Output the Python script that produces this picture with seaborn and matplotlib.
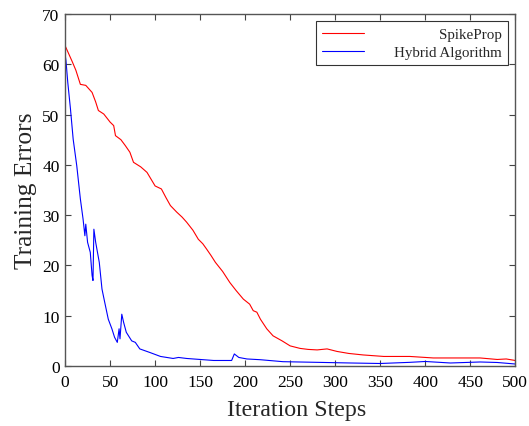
import pandas as pd
import matplotlib
matplotlib.use("Agg")
import matplotlib.pyplot as plt
import seaborn as sns

# SpikeProp training error
spike_x = [0, 3, 8, 12, 17, 23, 30, 34, 37, 43, 50, 54, 56, 62, 67, 72, 76, 84, 91, 96, 100,
           107, 112, 117, 124, 130, 135, 142, 148, 153, 157, 162, 167, 175, 183, 190, 198,
           205, 209, 213, 217, 224, 231, 241, 250, 261, 270, 280, 291, 302, 315, 331, 354,
           383, 409, 435, 461, 480, 490, 500]
spike_y = [63.7, 62.5, 60.5, 58.8, 56.0, 55.8, 54.4, 52.5, 50.8, 50.1, 48.5, 47.8, 45.8, 45.0,
           43.8, 42.5, 40.5, 39.6, 38.5, 37.0, 35.8, 35.2, 33.5, 31.9, 30.6, 29.6, 28.6, 27.0,
           25.2, 24.3, 23.3, 22.0, 20.6, 18.8, 16.6, 15.0, 13.3, 12.3, 11.0, 10.7, 9.3, 7.4,
           6.0, 5.0, 4.0, 3.5, 3.3, 3.2, 3.4, 2.9, 2.5, 2.2, 1.9, 1.9, 1.6, 1.6, 1.6, 1.3,
           1.4, 1.1]

# Hybrid algorithm training error
hybrid_x = [0, 1, 3, 6, 9, 13, 17, 20, 22, 23, 25, 28, 30, 31, 32, 34, 38, 41, 44, 48, 52,
            55, 58, 60, 61, 63, 65, 68, 74, 78, 83, 94, 106, 120, 126, 135, 150, 165, 185,
            188, 193, 202, 217, 242, 280, 317, 350, 383, 400, 428, 461, 480, 500]
hybrid_y = [62.0, 60.7, 56.4, 51.1, 45.1, 39.8, 33.2, 29.2, 25.9, 28.2, 24.6, 22.6, 18.0,
            17.0, 27.2, 24.6, 20.6, 15.3, 12.7, 9.3, 7.4, 5.7, 4.7, 7.4, 5.4, 10.3, 8.7, 6.7,
            5.0, 4.7, 3.4, 2.7, 1.9, 1.5, 1.7, 1.5, 1.3, 1.1, 1.1, 2.4, 1.7, 1.4, 1.25, 0.86,
            0.73, 0.6, 0.5, 0.73, 0.9, 0.6, 0.8, 0.7, 0.4]

spike = pd.DataFrame({"step": spike_x, "err": spike_y})
hybrid = pd.DataFrame({"step": hybrid_x, "err": hybrid_y})

sns.set_style("ticks")
plt.rcParams["font.family"] = ["Liberation Serif", "DejaVu Serif"]

fig = plt.figure(figsize=(5.29, 4.27), dpi=100)
ax = fig.add_axes([0.123, 0.1405, 0.851, 0.8245])

sns.lineplot(data=spike, x="step", y="err", color="red", lw=0.8, label="SpikeProp", ax=ax)
sns.lineplot(data=hybrid, x="step", y="err", color="blue", lw=0.8, label="Hybrid Algorithm", ax=ax)

ax.set_xlim(0, 500)
ax.set_ylim(0, 70)
ax.set_xticks(range(0, 501, 50))
ax.set_yticks(range(0, 71, 10))
ax.tick_params(direction="in", top=True, right=True, labelsize=12.5, length=4, colors="#444444",
               labelcolor="black")
ax.tick_params(axis="x", pad=6)
ax.tick_params(axis="y", pad=4)
for s in ax.spines.values():
    s.set_color("#555555")
    s.set_linewidth(1)
ax.set_xlabel("Iteration Steps", fontsize=17.3, labelpad=5)
ax.set_ylabel("Training Errors", fontsize=18.3, labelpad=4)
ax.xaxis.set_label_coords(0.515, -0.095)

leg = ax.legend(loc="upper right", fontsize=10.8, frameon=True, fancybox=False,
                edgecolor="black", handlelength=2.8, borderaxespad=0.5, borderpad=0.4,
                labelspacing=0.3, handletextpad=2.0)
leg.get_frame().set_linewidth(0.8)

# right-align the legend labels, as in the original
fig.canvas.draw()
renderer = fig.canvas.get_renderer()
widths = [t.get_window_extent(renderer).width for t in leg.get_texts()]
for t, w in zip(leg.get_texts(), widths):
    t.set_position((max(widths) - w, 0))

fig.savefig("out.png", dpi=100)
